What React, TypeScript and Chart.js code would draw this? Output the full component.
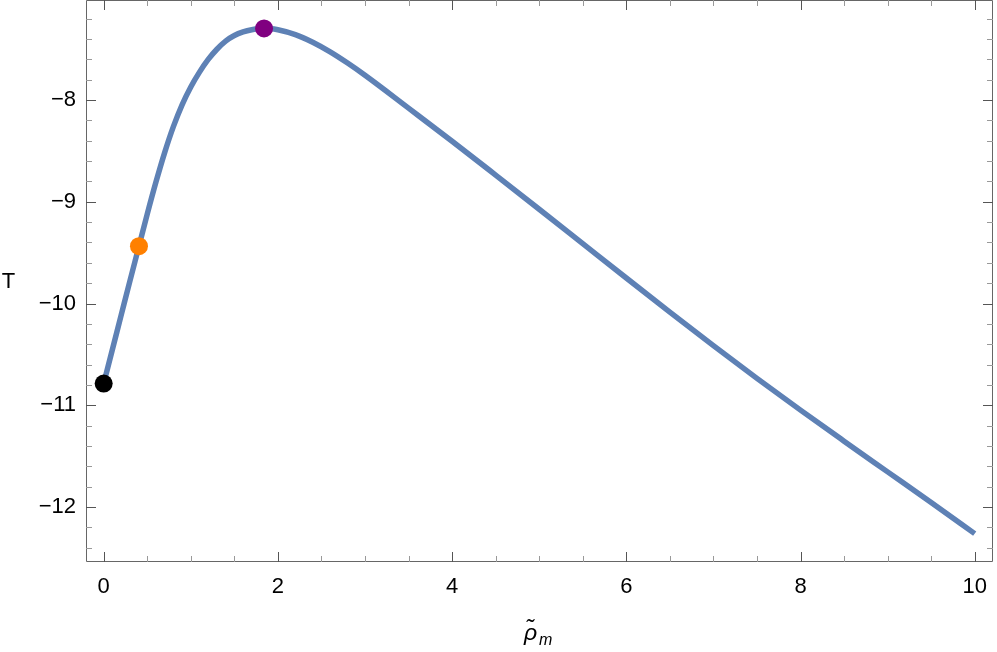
import React, { useEffect, useRef } from "react";
import { Chart, registerables } from "chart.js";

Chart.register(...registerables);

const curveX = [0, 0.1, 0.2, 0.3, 0.405, 0.5, 0.6, 0.7, 0.8, 0.9, 1.0, 1.1, 1.2, 1.3, 1.4, 1.5, 1.6, 1.7, 1.8, 1.841, 1.9, 2.0, 2.2, 2.4, 2.6, 2.8, 3.0, 3.5, 4.0, 4.5, 5.0, 5.5, 6.0, 6.5, 7.0, 7.5, 8.0, 8.5, 9.0, 9.5, 10.0];
const curveY = [-10.787, -10.452, -10.117, -9.782, -9.436, -9.121, -8.806, -8.516, -8.261, -8.046, -7.871, -7.725, -7.6, -7.5, -7.42, -7.365, -7.33, -7.308, -7.297, -7.295, -7.297, -7.308, -7.356, -7.431, -7.526, -7.636, -7.756, -8.079, -8.404, -8.737, -9.073, -9.411, -9.749, -10.084, -10.414, -10.736, -11.048, -11.353, -11.655, -11.957, -12.262];

const markerX = [0, 0.405, 1.841];
const markerY = [-10.787, -9.436, -7.295];
const markerColors = ["#000000", "#FF8000", "#800080"];

const xTicks = [0, 2, 4, 6, 8, 10];
const yTicks = [-12, -11, -10, -9, -8];
const xMinorStep = 0.5;
const yMinorStep = 0.2;

const X_MIN = -0.203;
const X_MAX = 10.21;
const Y_MIN = -12.541;
const Y_MAX = -7.016;

const fmt = (v: number) => (v < 0 ? "\u2212" + Math.abs(v) : String(v));

const framePlugin = {
  id: "framePlugin",
  beforeDatasetsDraw(chart: any) {
    const { ctx, chartArea } = chart;
    const { left, right, top, bottom } = chartArea;
    const xs = chart.scales.x;
    const ys = chart.scales.y;
    ctx.save();
    ctx.strokeStyle = "#666666";
    ctx.lineWidth = 1;
    ctx.beginPath();
    ctx.rect(Math.round(left) + 0.5, Math.round(top) + 0.5, Math.round(right - left) - 1, Math.round(bottom - top) - 1);
    ctx.stroke();

    const drawX = (v: number, len: number, color: string) => {
      const px = Math.round(xs.getPixelForValue(v)) + 0.5;
      ctx.strokeStyle = color;
      ctx.beginPath();
      ctx.moveTo(px, bottom);
      ctx.lineTo(px, bottom - len);
      ctx.moveTo(px, top);
      ctx.lineTo(px, top + len);
      ctx.stroke();
    };
    const drawY = (v: number, len: number, color: string) => {
      const py = Math.round(ys.getPixelForValue(v)) + 0.5;
      ctx.strokeStyle = color;
      ctx.beginPath();
      ctx.moveTo(left, py);
      ctx.lineTo(left + len, py);
      ctx.moveTo(right, py);
      ctx.lineTo(right - len, py);
      ctx.stroke();
    };
    for (let i = -1; i < 30; i++) {
      const v = i * xMinorStep;
      if (v < X_MIN || v > X_MAX) continue;
      const major = xTicks.some((t) => Math.abs(t - v) < 1e-9);
      drawX(v, major ? 10 : 6, major ? "#555555" : "#999999");
    }
    for (let i = 0; i < 40; i++) {
      const v = Math.round((-13 + i * yMinorStep) * 1000) / 1000;
      if (v < Y_MIN || v > Y_MAX) continue;
      const major = yTicks.some((t) => Math.abs(t - v) < 1e-9);
      drawY(v, major ? 10 : 6, major ? "#555555" : "#999999");
    }

    ctx.fillStyle = "#000000";
    ctx.textBaseline = "middle";
    ctx.textAlign = "center";
    ctx.font = '22px "Liberation Sans", Arial, sans-serif';
    ctx.fillText("T", 8.5, (top + bottom) / 2 + 1);
    ctx.textBaseline = "alphabetic";
    ctx.textAlign = "left";
    ctx.font = 'italic 23px "Liberation Sans", Arial, sans-serif';
    ctx.fillText("\u03C1\u0303", 524, 640);
    ctx.font = 'italic 16px "Liberation Sans", Arial, sans-serif';
    ctx.fillText("m", 539, 645);
    ctx.restore();
  },
};

export default function App() {
  const ref = useRef<HTMLCanvasElement | null>(null);
  useEffect(() => {
    document.body.style.margin = "0";
    const canvas = ref.current;
    if (!canvas) return;
    const labelFont = { family: '"Liberation Sans", Arial, sans-serif', size: 22 };
    const zeroPad = (s: any) => {
      s.paddingLeft = 0;
      s.paddingRight = 0;
      s.paddingTop = 0;
      s.paddingBottom = 0;
    };
    const chart = new Chart(canvas, {
      type: "scatter",
      data: {
        datasets: [
          {
            label: "points",
            data: markerX.map((x, i) => ({ x, y: markerY[i] })),
            pointRadius: 9,
            pointHoverRadius: 9,
            pointBackgroundColor: markerColors,
            pointBorderWidth: 0,
            borderWidth: 0,
            showLine: false,
          },
          {
            label: "T",
            data: curveX.map((x, i) => ({ x, y: curveY[i] })),
            showLine: true,
            borderColor: "#5E81B5",
            borderWidth: 5.5,
            pointRadius: 0,
            cubicInterpolationMode: "monotone",
            borderCapStyle: "butt",
            borderJoinStyle: "round",
          },
        ],
      },
      options: {
        animation: false,
        responsive: false,
        maintainAspectRatio: false,
        events: [],
        layout: { autoPadding: false, padding: { top: 0, left: 0, right: 4, bottom: 0 } },
        plugins: { legend: { display: false }, tooltip: { enabled: false } },
        scales: {
          x: {
            type: "linear",
            min: X_MIN,
            max: X_MAX,
            grid: { display: false, drawTicks: false },
            border: { display: false },
            afterBuildTicks: (s: any) => {
              s.ticks = xTicks.map((v) => ({ value: v }));
            },
            afterFit: (s: any) => {
              s.height = 90;
              zeroPad(s);
            },
            ticks: {
              color: "#000000",
              font: labelFont,
              padding: 12,
              maxRotation: 0,
              autoSkip: false,
              callback: (v: any) => fmt(Number(v)),
            },
          },
          y: {
            type: "linear",
            min: Y_MIN,
            max: Y_MAX,
            grid: { display: false, drawTicks: false },
            border: { display: false },
            afterBuildTicks: (s: any) => {
              s.ticks = yTicks.map((v) => ({ value: v }));
            },
            afterFit: (s: any) => {
              s.width = 86;
              zeroPad(s);
            },
            ticks: {
              color: "#000000",
              font: labelFont,
              padding: 10,
              autoSkip: false,
              callback: (v: any) => fmt(Number(v)),
            },
          },
        },
      },
      plugins: [framePlugin],
    } as any);
    return () => chart.destroy();
  }, []);
  return (
    <canvas
      ref={ref}
      width={997}
      height={652}
      style={{ position: "absolute", left: 0, top: 0, width: 997, height: 652 }}
    />
  );
}
